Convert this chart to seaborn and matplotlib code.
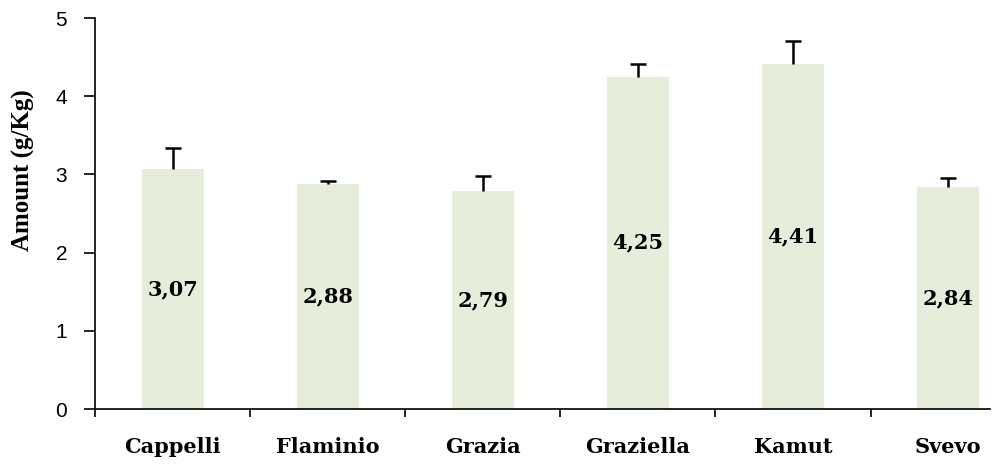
import matplotlib
matplotlib.use("Agg")
import matplotlib.pyplot as plt
import seaborn as sns
import pandas as pd
import numpy as np

categories = ["Cappelli", "Flaminio", "Grazia", "Graziella", "Kamut", "Svevo"]
values = [3.07, 2.88, 2.79, 4.25, 4.41, 2.84]
errors = [0.27, 0.03, 0.19, 0.16, 0.30, 0.12]
value_labels = ["3,07", "2,88", "2,79", "4,25", "4,41", "2,84"]
yticks = [0, 1, 2, 3, 4, 5]

sns.set_theme(style="white")
plt.rcParams["font.family"] = ["Liberation Sans", "DejaVu Sans"]
plt.rcParams["text.color"] = "black"
plt.rcParams["axes.labelcolor"] = "black"
plt.rcParams["xtick.color"] = "black"
plt.rcParams["ytick.color"] = "black"

SERIF = ["DejaVu Serif", "Liberation Serif"]

df = pd.DataFrame({"cat": categories, "val": values})

fig = plt.figure(figsize=(10, 4.68), dpi=100)
ax = fig.add_axes([0.095, 0.126, 0.895, 0.8355])

sns.barplot(data=df, x="cat", y="val", color="#E6EDDB", saturation=1,
            width=0.4, errorbar=None, ax=ax, edgecolor="none")

xpos = np.arange(len(categories))
cont = ax.errorbar(xpos, values, yerr=[np.zeros(len(errors)), errors], fmt="none",
                   ecolor="black", elinewidth=1.8, capsize=6, capthick=1.8)
# hide the (zero-length) lower caps
caps = cont.lines[1]
if len(caps) >= 2:
    caps[0].set_visible(False)

for x, v, lab in zip(xpos, values, value_labels):
    ax.text(x, v / 2, lab, ha="center", va="center", fontsize=15,
            fontweight="bold", family=SERIF, color="black")

ax.set_xlim(-0.5, 5.27)
ax.set_ylim(0, 5)
ax.set_yticks(yticks)
ax.set_yticklabels([str(t) for t in yticks], fontsize=15,
                   family=["Liberation Sans", "DejaVu Sans"])

ax.set_xticks(xpos)
ax.set_xticklabels(categories, fontsize=15, fontweight="bold", family=SERIF)
ax.set_xticks(np.arange(-0.5, 5.0, 1.0), minor=True)
ax.tick_params(axis="x", which="major", length=0, pad=20)
ax.tick_params(axis="x", which="minor", length=6, width=1.2, color="black",
               direction="out", bottom=True)
ax.tick_params(axis="y", which="major", length=8, width=1.2, color="black",
               direction="out", left=True, pad=12, labelcolor="black")

ax.set_xlabel("")
ax.set_ylabel("Amount (g/Kg)", fontsize=18, fontweight="bold",
              family=["Liberation Serif", "DejaVu Serif"], color="black")
ax.yaxis.set_label_coords(-0.067, 0.61)

for side in ["top", "right"]:
    ax.spines[side].set_visible(False)
for side in ["left", "bottom"]:
    ax.spines[side].set_color("black")
    ax.spines[side].set_linewidth(1.2)

fig.savefig("out.png", dpi=100)
